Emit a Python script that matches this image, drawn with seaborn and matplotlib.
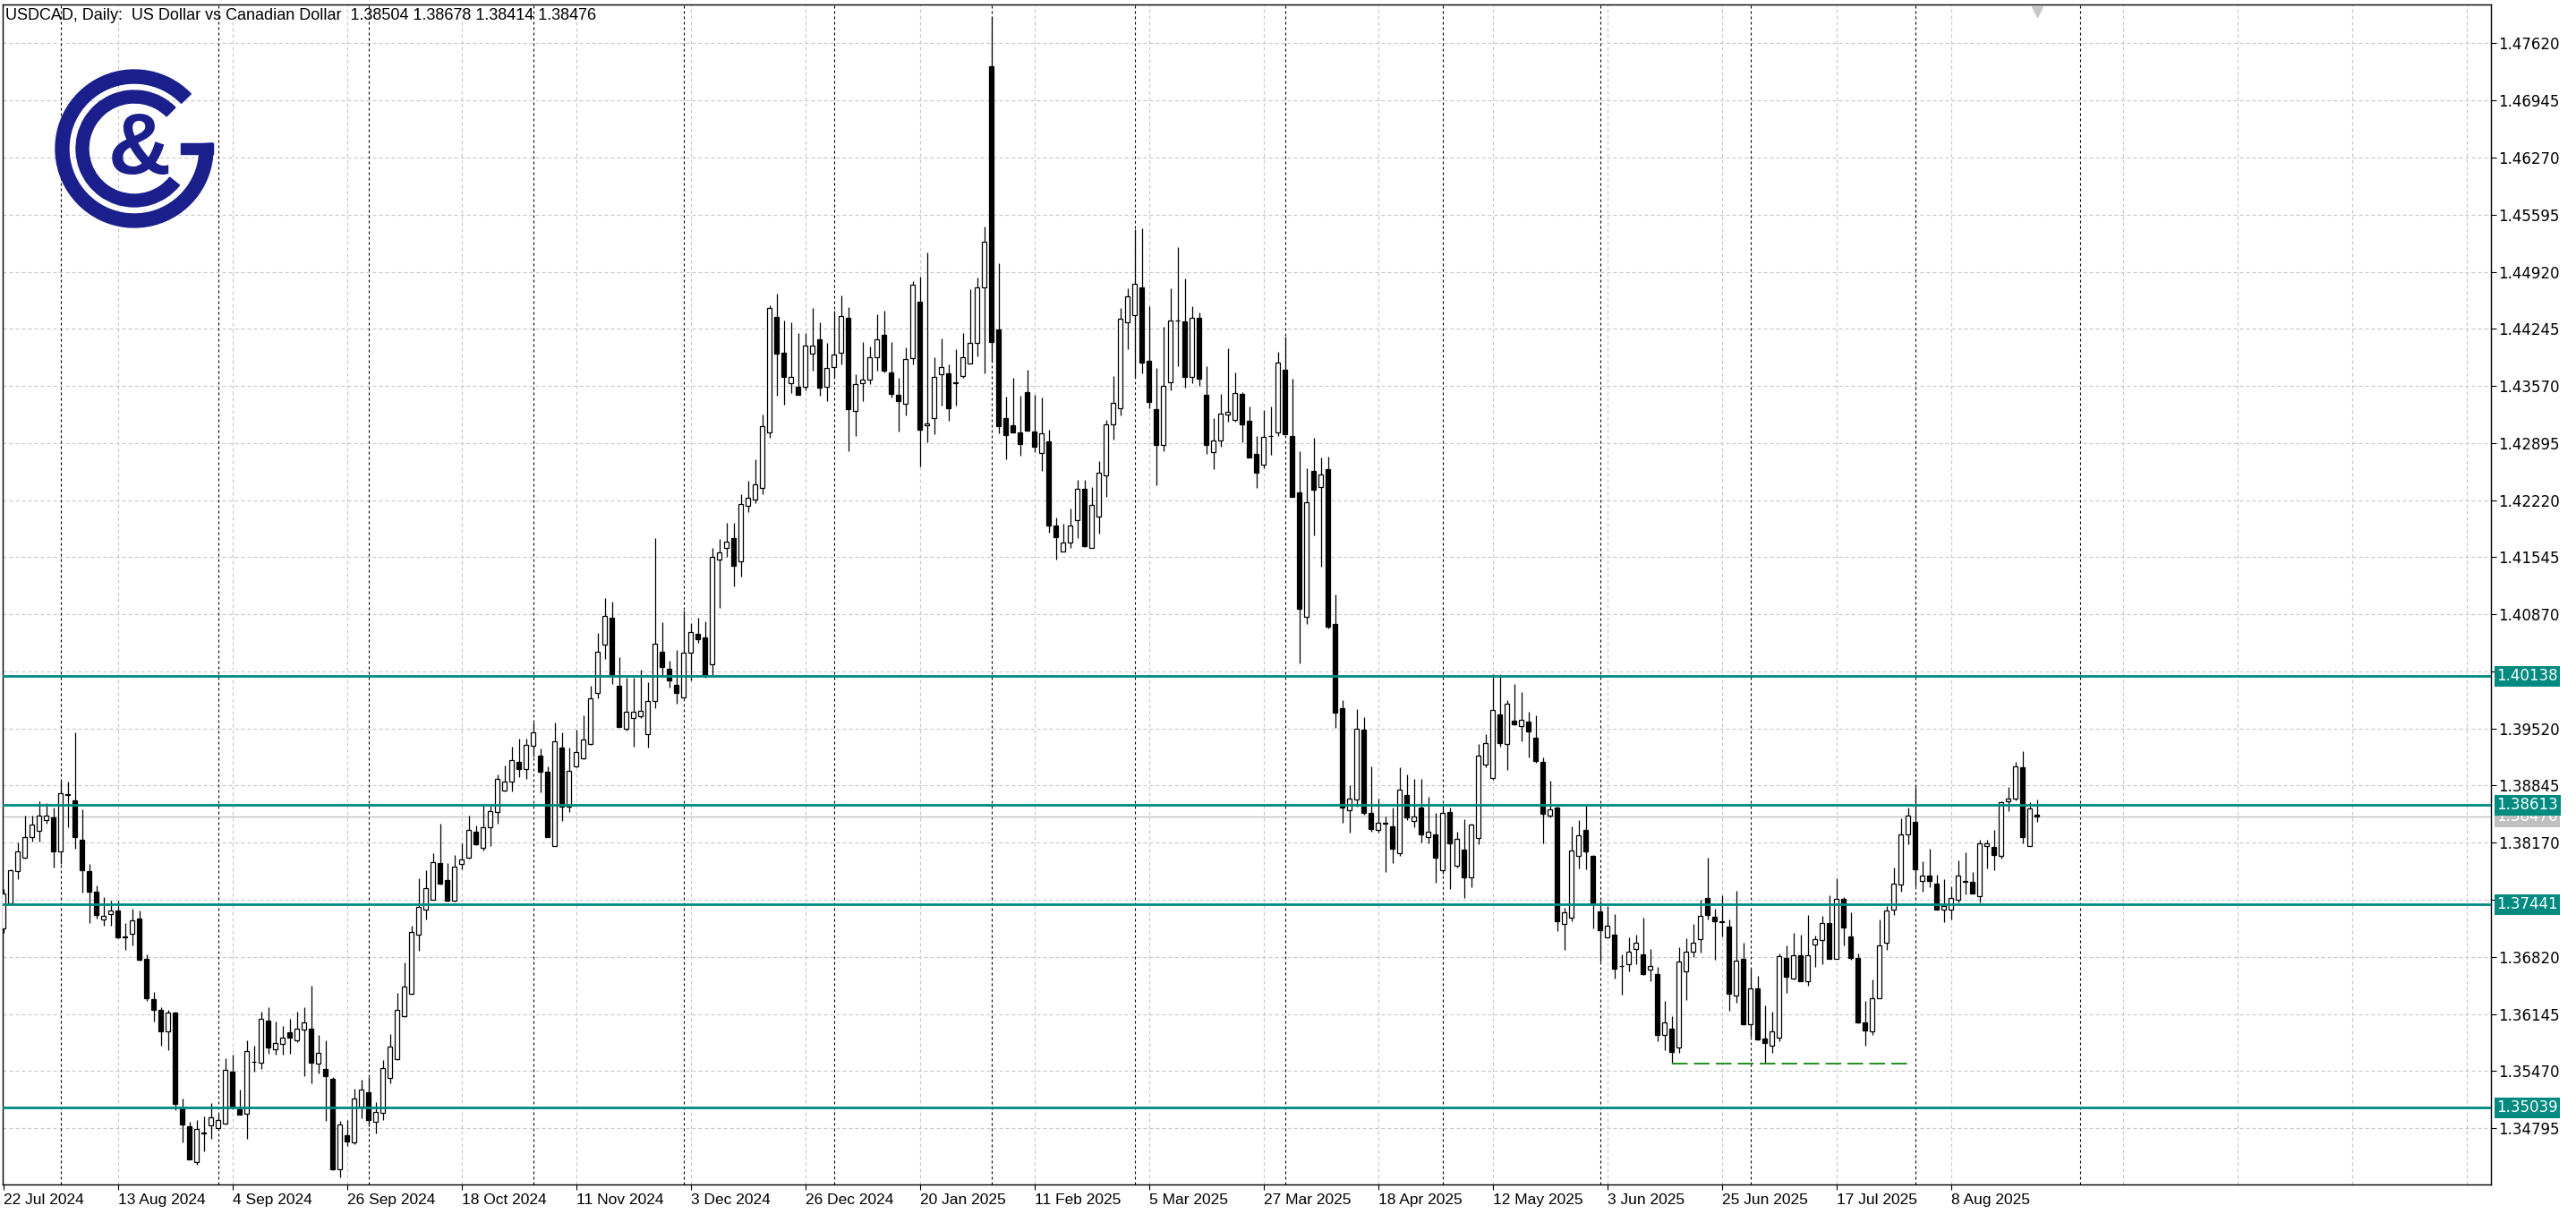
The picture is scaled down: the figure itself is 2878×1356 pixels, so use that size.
import seaborn as sns
import matplotlib.pyplot as plt
import matplotlib.transforms as mtransforms
from matplotlib.patches import Wedge, Rectangle
import numpy as np

# daily USDCAD bars, 22 Jul 2024 .. 26 Aug 2025
opens = [
    1.3716, 1.3745, 1.3783, 1.3799, 1.3824, 1.3831, 1.3844, 1.3847, 1.3807, 1.3874,
    1.3867, 1.3820, 1.3783, 1.3759, 1.3726, 1.3733, 1.3737, 1.3706, 1.3709, 1.3727,
    1.3680, 1.3632, 1.3619, 1.3594, 1.3616, 1.3504, 1.3482, 1.3439, 1.3474, 1.3483,
    1.3480, 1.3485, 1.3546, 1.3502, 1.3496, 1.3558, 1.3557, 1.3607, 1.3573, 1.3579,
    1.3593, 1.3583, 1.3596, 1.3597, 1.3556, 1.3549, 1.3538, 1.3431, 1.3471, 1.3463,
    1.3505, 1.3522, 1.3487, 1.3498, 1.3539, 1.3561, 1.3612, 1.3638, 1.3708, 1.3738,
    1.3750, 1.3793, 1.3773, 1.3748, 1.3792, 1.3799, 1.3830, 1.3811, 1.3835, 1.3853,
    1.3879, 1.3889, 1.3913, 1.3904, 1.3932, 1.3920, 1.3901, 1.3813, 1.3929, 1.3860,
    1.3907, 1.3917, 1.3934, 1.3994, 1.4051, 1.4083, 1.4002, 1.3952, 1.3964, 1.3967,
    1.3945, 1.3984, 1.4043, 1.4023, 1.4004, 1.3989, 1.4042, 1.4064, 1.4060, 1.4028,
    1.4152, 1.4166, 1.4177, 1.4150, 1.4215, 1.4223, 1.4236, 1.4302, 1.4439, 1.4396,
    1.4360, 1.4356, 1.4356, 1.4395, 1.4412, 1.4356, 1.4379, 1.4396, 1.4437, 1.4327,
    1.4360, 1.4365, 1.4391, 1.4417, 1.4373, 1.4346, 1.4336, 1.4390, 1.4457, 1.4310,
    1.4319, 1.4371, 1.4372, 1.4361, 1.4369, 1.4384, 1.4408, 1.4474, 1.4735, 1.4424,
    1.4319, 1.4310, 1.4302, 1.4350, 1.4303, 1.4278, 1.4291, 1.4192, 1.4161, 1.4172,
    1.4198, 1.4235, 1.4166, 1.4203, 1.4251, 1.4312, 1.4331, 1.4432, 1.4441, 1.4473,
    1.4387, 1.4330, 1.4287, 1.4361, 1.4434, 1.4433, 1.4368, 1.4438, 1.4346, 1.4279,
    1.4293, 1.4323, 1.4317, 1.4348, 1.4316, 1.4277, 1.4264, 1.4298, 1.4302, 1.4376,
    1.4298, 1.4231, 1.4084, 1.4256, 1.4237, 1.4259, 1.4075, 1.3976, 1.3855, 1.3868,
    1.3951, 1.3852, 1.3832, 1.3841, 1.3836, 1.3805, 1.3873, 1.3843, 1.3858, 1.3824,
    1.3827, 1.3784, 1.3853, 1.3790, 1.3809, 1.3776, 1.3823, 1.3909, 1.3893, 1.3969,
    1.3934, 1.3961, 1.3955, 1.3960, 1.3941, 1.3912, 1.3849, 1.3858, 1.3721, 1.3728,
    1.3801, 1.3832, 1.3801, 1.3736, 1.3705, 1.3708, 1.3671, 1.3673, 1.3691, 1.3685,
    1.3667, 1.3662, 1.3590, 1.3597, 1.3575, 1.3665, 1.3688, 1.3703, 1.3752, 1.3729,
    1.3724, 1.3718, 1.3636, 1.3680, 1.3602, 1.3645, 1.3585, 1.3577, 1.3586, 1.3681,
    1.3656, 1.3684, 1.3653, 1.3697, 1.3702, 1.3722, 1.3680, 1.3751, 1.3706, 1.3681,
    1.3604, 1.3594, 1.3633, 1.3699, 1.3738, 1.3768, 1.3827, 1.3842, 1.3772, 1.3778,
    1.3769, 1.3738, 1.3738, 1.3750, 1.3771, 1.3771, 1.3754, 1.3813, 1.3812, 1.3801,
    1.3866, 1.3869, 1.3906, 1.3813, 1.38504,
]
highs = [
    1.3762, 1.3786, 1.3817, 1.3849, 1.3849, 1.3866, 1.3864, 1.3859, 1.3890, 1.3889,
    1.3947, 1.3856, 1.3792, 1.3766, 1.3753, 1.3748, 1.3748, 1.3722, 1.3739, 1.3737,
    1.3685, 1.3641, 1.3622, 1.3619, 1.3617, 1.3515, 1.3487, 1.3489, 1.3493, 1.3509,
    1.3497, 1.3562, 1.3566, 1.3525, 1.3583, 1.3577, 1.3617, 1.3623, 1.3606, 1.3600,
    1.3609, 1.3617, 1.3623, 1.3648, 1.3590, 1.3583, 1.3540, 1.3488, 1.3489, 1.3526,
    1.3537, 1.3540, 1.3510, 1.3560, 1.3591, 1.3639, 1.3675, 1.3719, 1.3775, 1.3784,
    1.3805, 1.3839, 1.3793, 1.3802, 1.3816, 1.3849, 1.3837, 1.3862, 1.3862, 1.3898,
    1.3908, 1.3930, 1.3940, 1.3940, 1.3959, 1.3928, 1.3907, 1.3959, 1.3947, 1.3929,
    1.3951, 1.3968, 1.4002, 1.4065, 1.4106, 1.4102, 1.4036, 1.4012, 1.4012, 1.4022,
    1.4007, 1.4177, 1.4078, 1.4032, 1.4045, 1.4091, 1.4077, 1.4083, 1.4079, 1.4165,
    1.4176, 1.4195, 1.4195, 1.4229, 1.4245, 1.4270, 1.4323, 1.4452, 1.4466, 1.4434,
    1.4432, 1.4420, 1.4420, 1.4449, 1.4432, 1.4408, 1.4446, 1.4464, 1.4450, 1.4371,
    1.4409, 1.4404, 1.4442, 1.4446, 1.4409, 1.4367, 1.4403, 1.4481, 1.4486, 1.4515,
    1.4391, 1.4413, 1.4383, 1.4401, 1.4420, 1.4471, 1.4485, 1.4545, 1.4793, 1.4502,
    1.4344, 1.4367, 1.4345, 1.4376, 1.4346, 1.4343, 1.4305, 1.4201, 1.4194, 1.4212,
    1.4246, 1.4246, 1.4237, 1.4268, 1.4317, 1.4369, 1.4449, 1.4472, 1.4542, 1.4543,
    1.4451, 1.4378, 1.4427, 1.4472, 1.4521, 1.4484, 1.4451, 1.4444, 1.4380, 1.4319,
    1.4348, 1.4402, 1.4373, 1.4350, 1.4333, 1.4298, 1.4329, 1.4333, 1.4397, 1.4415,
    1.4366, 1.4280, 1.4260, 1.4296, 1.4272, 1.4273, 1.4110, 1.3986, 1.3885, 1.3975,
    1.3965, 1.3907, 1.3869, 1.3848, 1.3859, 1.3906, 1.3898, 1.3892, 1.3892, 1.3871,
    1.3852, 1.3859, 1.3859, 1.3830, 1.3845, 1.3839, 1.3934, 1.3945, 1.4016, 1.4016,
    1.3986, 1.4005, 1.3995, 1.3972, 1.3968, 1.3918, 1.3890, 1.3860, 1.3740, 1.3836,
    1.3844, 1.3861, 1.3802, 1.3748, 1.3742, 1.3733, 1.3685, 1.3705, 1.3708, 1.3728,
    1.3691, 1.3670, 1.3630, 1.3612, 1.3693, 1.3704, 1.3721, 1.3750, 1.3799, 1.3739,
    1.3755, 1.3726, 1.3760, 1.3699, 1.3668, 1.3660, 1.3625, 1.3617, 1.3686, 1.3696,
    1.3710, 1.3708, 1.3731, 1.3707, 1.3730, 1.3755, 1.3775, 1.3753, 1.3735, 1.3686,
    1.3630, 1.3655, 1.3726, 1.3742, 1.3788, 1.3846, 1.3858, 1.3883, 1.3795, 1.3810,
    1.3779, 1.3774, 1.3765, 1.3796, 1.3806, 1.3782, 1.3820, 1.3820, 1.3832, 1.3866,
    1.3883, 1.3913, 1.3925, 1.3865, 1.38678,
]
lows = [
    1.3710, 1.3744, 1.3774, 1.3798, 1.3818, 1.3818, 1.3839, 1.3788, 1.3792, 1.3835,
    1.3810, 1.3758, 1.3722, 1.3727, 1.3719, 1.3719, 1.3704, 1.3690, 1.3696, 1.3678,
    1.3630, 1.3606, 1.3577, 1.3572, 1.3501, 1.3463, 1.3443, 1.3436, 1.3452, 1.3467,
    1.3479, 1.3484, 1.3502, 1.3495, 1.3467, 1.3546, 1.3549, 1.3567, 1.3566, 1.3566,
    1.3567, 1.3581, 1.3541, 1.3533, 1.3544, 1.3488, 1.3430, 1.3421, 1.3458, 1.3461,
    1.3491, 1.3482, 1.3473, 1.3489, 1.3532, 1.3560, 1.3611, 1.3637, 1.3689, 1.3726,
    1.3749, 1.3768, 1.3747, 1.3747, 1.3786, 1.3798, 1.3814, 1.3808, 1.3813, 1.3839,
    1.3878, 1.3878, 1.3895, 1.3892, 1.3919, 1.3876, 1.3824, 1.3813, 1.3843, 1.3853,
    1.3906, 1.3916, 1.3933, 1.3988, 1.4034, 1.4005, 1.3954, 1.3950, 1.3931, 1.3964,
    1.3929, 1.3976, 1.4013, 1.4000, 1.3981, 1.3988, 1.4009, 1.4053, 1.4012, 1.4015,
    1.4095, 1.4155, 1.4120, 1.4132, 1.4208, 1.4218, 1.4229, 1.4296, 1.4345, 1.4335,
    1.4349, 1.4346, 1.4352, 1.4375, 1.4345, 1.4339, 1.4368, 1.4383, 1.4280, 1.4298,
    1.4339, 1.4359, 1.4375, 1.4373, 1.4343, 1.4303, 1.4322, 1.4383, 1.4262, 1.4290,
    1.4300, 1.4334, 1.4316, 1.4334, 1.4367, 1.4384, 1.4392, 1.4372, 1.4387, 1.4301,
    1.4270, 1.4302, 1.4274, 1.4304, 1.4279, 1.4256, 1.4183, 1.4152, 1.4161, 1.4165,
    1.4177, 1.4167, 1.4165, 1.4182, 1.4226, 1.4294, 1.4322, 1.4400, 1.4368, 1.4372,
    1.4331, 1.4240, 1.4280, 1.4352, 1.4380, 1.4355, 1.4360, 1.4357, 1.4277, 1.4259,
    1.4285, 1.4315, 1.4315, 1.4290, 1.4272, 1.4236, 1.4260, 1.4276, 1.4298, 1.4300,
    1.4226, 1.4029, 1.4075, 1.4180, 1.4143, 1.4070, 1.3953, 1.3841, 1.3829, 1.3860,
    1.3850, 1.3830, 1.3829, 1.3782, 1.3793, 1.3801, 1.3844, 1.3835, 1.3817, 1.3816,
    1.3770, 1.3780, 1.3762, 1.3788, 1.3752, 1.3764, 1.3815, 1.3906, 1.3891, 1.3930,
    1.3903, 1.3956, 1.3937, 1.3918, 1.3911, 1.3816, 1.3847, 1.3712, 1.3690, 1.3724,
    1.3787, 1.3786, 1.3716, 1.3676, 1.3705, 1.3656, 1.3637, 1.3665, 1.3673, 1.3661,
    1.3653, 1.3582, 1.3572, 1.3556, 1.3568, 1.3631, 1.3682, 1.3687, 1.3726, 1.3679,
    1.3706, 1.3618, 1.3628, 1.3601, 1.3588, 1.3583, 1.3556, 1.3568, 1.3582, 1.3639,
    1.3655, 1.3653, 1.3648, 1.3670, 1.3673, 1.3680, 1.3680, 1.3696, 1.3679, 1.3603,
    1.3577, 1.3590, 1.3633, 1.3690, 1.3732, 1.3759, 1.3815, 1.3765, 1.3759, 1.3764,
    1.3738, 1.3723, 1.3726, 1.3746, 1.3756, 1.3757, 1.3746, 1.3787, 1.3784, 1.3798,
    1.3854, 1.3867, 1.3816, 1.3813, 1.38414,
]
closes = [
    1.3757, 1.3784, 1.3807, 1.3824, 1.3838, 1.3849, 1.3849, 1.3807, 1.3875, 1.3873,
    1.3824, 1.3784, 1.3759, 1.3732, 1.3730, 1.3737, 1.3705, 1.3705, 1.3725, 1.3679,
    1.3633, 1.3619, 1.3594, 1.3616, 1.3508, 1.3484, 1.3443, 1.3479, 1.3473, 1.3492,
    1.3489, 1.3548, 1.3505, 1.3495, 1.3571, 1.3558, 1.3609, 1.3575, 1.3580, 1.3587,
    1.3587, 1.3597, 1.3604, 1.3557, 1.3569, 1.3541, 1.3431, 1.3484, 1.3464, 1.3515,
    1.3525, 1.3489, 1.3499, 1.3550, 1.3576, 1.3619, 1.3647, 1.3711, 1.3741, 1.3763,
    1.3794, 1.3769, 1.3748, 1.3789, 1.3797, 1.3832, 1.3815, 1.3835, 1.3854, 1.3892,
    1.3889, 1.3915, 1.3904, 1.3933, 1.3947, 1.3901, 1.3824, 1.3937, 1.3860, 1.3902,
    1.3924, 1.3939, 1.3988, 1.4043, 1.4085, 1.4015, 1.3954, 1.3972, 1.3972, 1.3973,
    1.3985, 1.4052, 1.4025, 1.4009, 1.3994, 1.4042, 1.4066, 1.4058, 1.4015, 1.4155,
    1.4160, 1.4173, 1.4144, 1.4217, 1.4225, 1.4241, 1.4309, 1.4449, 1.4395, 1.4368,
    1.4368, 1.4347, 1.4405, 1.4405, 1.4355, 1.4378, 1.4394, 1.4440, 1.4330, 1.4359,
    1.4365, 1.4391, 1.4412, 1.4375, 1.4348, 1.4339, 1.4389, 1.4477, 1.4305, 1.4313,
    1.4368, 1.4379, 1.4331, 1.4360, 1.4391, 1.4408, 1.4473, 1.4527, 1.4409, 1.4309,
    1.4299, 1.4302, 1.4288, 1.4304, 1.4285, 1.4301, 1.4192, 1.4178, 1.4172, 1.4192,
    1.4235, 1.4168, 1.4216, 1.4254, 1.4312, 1.4337, 1.4436, 1.4463, 1.4478, 1.4385,
    1.4338, 1.4287, 1.4357, 1.4434, 1.4434, 1.4368, 1.4438, 1.4366, 1.4287, 1.4292,
    1.4324, 1.4326, 1.4349, 1.4312, 1.4272, 1.4254, 1.4297, 1.4298, 1.4385, 1.4300,
    1.4226, 1.4094, 1.4220, 1.4234, 1.4252, 1.4072, 1.3971, 1.3859, 1.3869, 1.3952,
    1.3852, 1.3833, 1.3841, 1.3840, 1.3810, 1.3880, 1.3847, 1.3848, 1.3827, 1.3830,
    1.3799, 1.3852, 1.3816, 1.3822, 1.3776, 1.3838, 1.3920, 1.3935, 1.3974, 1.3935,
    1.3981, 1.3957, 1.3962, 1.3949, 1.3914, 1.3851, 1.3856, 1.3724, 1.3735, 1.3808,
    1.3826, 1.3807, 1.3744, 1.3713, 1.3719, 1.3668, 1.3671, 1.3688, 1.3699, 1.3662,
    1.3671, 1.3590, 1.3605, 1.3570, 1.3676, 1.3688, 1.3699, 1.3730, 1.3732, 1.3724,
    1.3723, 1.3638, 1.3677, 1.3602, 1.3645, 1.3584, 1.3580, 1.3594, 1.3683, 1.3658,
    1.3684, 1.3653, 1.3684, 1.3703, 1.3722, 1.3680, 1.3751, 1.3717, 1.3681, 1.3605,
    1.3595, 1.3633, 1.3696, 1.3737, 1.3769, 1.3827, 1.3849, 1.3786, 1.3778, 1.3772,
    1.3738, 1.3742, 1.3752, 1.3778, 1.3771, 1.3757, 1.3816, 1.3816, 1.3802, 1.3865,
    1.3869, 1.3907, 1.3824, 1.3857, 1.38476,
]

tick_pos = [0, 16, 32, 48, 64, 80, 96, 112, 128, 144, 160, 176, 192, 208, 224, 240, 256, 272]
tick_labels = ['22 Jul 2024', '13 Aug 2024', '4 Sep 2024', '26 Sep 2024', '18 Oct 2024',
               '11 Nov 2024', '3 Dec 2024', '26 Dec 2024', '20 Jan 2025', '11 Feb 2025',
               '5 Mar 2025', '27 Mar 2025', '18 Apr 2025', '12 May 2025', '3 Jun 2025',
               '25 Jun 2025', '17 Jul 2025', '8 Aug 2025']
grid_future = [296, 312, 328, 344]
month_starts = [8, 30, 51, 74, 95, 116, 138, 158, 179, 201, 223, 244, 267, 290]
price_ticks = [1.34795, 1.35470, 1.36145, 1.36820, 1.37495, 1.38170, 1.38845, 1.39520,
               1.40195, 1.40870, 1.41545, 1.42220, 1.42895, 1.43570, 1.44245, 1.44920,
               1.45595, 1.46270, 1.46945, 1.47620]
levels = [1.40138, 1.38613, 1.37441, 1.35039]
bid = 1.38476
support = 1.3556
support_span = (233, 266)
title = 'USDCAD, Daily:  US Dollar vs Canadian Dollar  1.38504 1.38678 1.38414 1.38476'

sns.set_style('white')
plt.rcParams['font.family'] = ['Liberation Sans', 'DejaVu Sans']

teal = '#008a80'
grid_c = '#c8c8c8'
W, H = 2878, 1356
fig = plt.figure(figsize=(W / 100, H / 100), dpi=100)
ax = fig.add_axes([3 / W, 33 / H, 2780 / W, 1318 / H])

o = np.array(opens); c = np.array(closes)
hi = np.maximum(np.array(highs), np.maximum(o, c))
lo = np.minimum(np.array(lows), np.minimum(o, c))
x = np.arange(len(o))
up = c >= o

# candles
ax.vlines(x, lo, hi, color='black', lw=0.9, zorder=2)
body = np.maximum(np.abs(c - o), 0.00003)
ax.bar(x, body, bottom=np.minimum(o, c), width=0.62,
       color=np.where(up, 'white', 'black'), edgecolor='black', linewidth=0.9, zorder=3)

# grid + month separators
ax.grid(True, axis='y', color=grid_c, linestyle=(0, (3.6, 2.7)), linewidth=0.8)
for k in tick_pos[1:] + grid_future:
    ax.axvline(k, color=grid_c, linestyle=(0, (3.6, 2.7)), linewidth=0.8, zorder=0.6)
for m in month_starts:
    ax.axvline(m, color='black', linestyle=(0, (2.7, 2.7)), linewidth=0.8, zorder=1)

# levels
ax.axhline(bid, color='#c0c0c0', lw=1.0, zorder=1.5)
for lv in levels:
    ax.axhline(lv, color=teal, lw=2.0, zorder=4)
ax.hlines(support, support_span[0], support_span[1], colors='#1f8f1f',
          linestyles=(0, (9, 3.6)), lw=1.4, zorder=4)

ax.set_xlim(-0.1, 347.4)
ax.set_ylim(1.34129, 1.48080)

ax.yaxis.tick_right()
ax.set_yticks(price_ticks)
ax.set_yticklabels([f'{v:.5f}' for v in price_ticks])
ax.tick_params(axis='y', right=True, left=False, direction='out', length=4, width=0.8,
               pad=2, labelsize=12, labelfontfamily='DejaVu Sans', colors='black')
ax.set_xticks(tick_pos)
ax.set_xticklabels(tick_labels, ha='left')
ax.tick_params(axis='x', bottom=True, direction='out', length=4, width=0.8, pad=3,
               labelsize=12.5, colors='black')
for s in ax.spines.values():
    s.set_color('black')
    s.set_linewidth(1.0)

trans = mtransforms.blended_transform_factory(ax.transAxes, ax.transData)
ax.annotate(f'{bid:.5f}', xy=(1, bid), xycoords=trans, xytext=(4.5, 0),
            textcoords='offset points', ha='left', va='center', fontsize=12,
            color='white', family='DejaVu Sans', annotation_clip=False, zorder=9,
            bbox=dict(boxstyle='square,pad=0.15', fc='#c0c0c0', ec='none'))
for lv in levels:
    ax.annotate(f'{lv:.5f}', xy=(1, lv), xycoords=trans, xytext=(4.5, 0),
                textcoords='offset points', ha='left', va='center', fontsize=12,
                color='white', family='DejaVu Sans', annotation_clip=False, zorder=10,
                bbox=dict(boxstyle='square,pad=0.15', fc=teal, ec='none'))

# chart shift marker
ax.plot([len(o) - 1], [0.994], marker='v', color='#c8c8c8', ms=9, clip_on=False,
        transform=mtransforms.blended_transform_factory(ax.transData, ax.transAxes), zorder=5)

fig.text(6 / W, 1 - 9 / H, title, ha='left', va='top', fontsize=13, color='black')

# logo
lax = fig.add_axes([(150 - 100) / W, (H - 166 - 100) / H, 200 / W, 200 / H])
lax.set_xlim(-100, 100)
lax.set_ylim(-100, 100)
lax.axis('off')
navy = '#1b1f8c'
lax.add_patch(Wedge((0, 0), 88, 44, 364, width=15, color=navy))
lax.add_patch(Wedge((0, 0), 65, 45, 321, width=14, color=navy))
lax.add_patch(Rectangle((52, -6), 36, 12, color=navy))
lax.text(6, -3, '&', ha='center', va='center', fontsize=70, fontweight='bold', color=navy)

fig.savefig('out.png', dpi=100)
